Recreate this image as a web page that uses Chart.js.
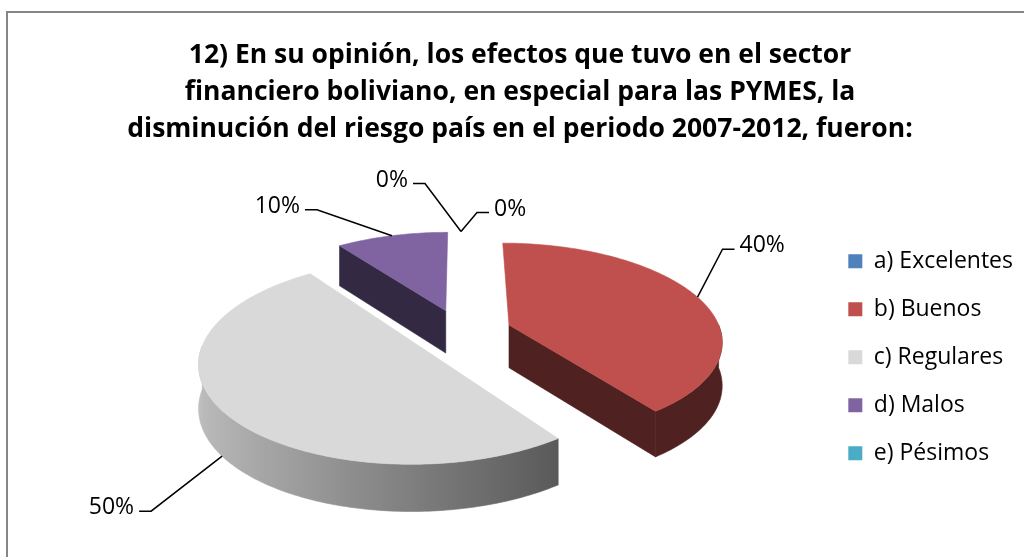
<!DOCTYPE html>
<html>
<head>
<meta charset="utf-8">
<script src="https://cdn.jsdelivr.net/npm/chart.js@4.4.1/dist/chart.umd.min.js"></script>
<style>
  html, body { margin: 0; padding: 0; background: #ffffff; overflow: hidden; }
  #wrap { width: 1024px; height: 557px; position: relative; }
</style>
</head>
<body>
<div id="wrap"><canvas id="chart" width="1024" height="557"></canvas></div>
<script>
// Survey answers (share of respondents, %)
const categories = ['a) Excelentes', 'b) Buenos', 'c) Regulares', 'd) Malos', 'e) Pésimos'];
const shares = [0, 40, 50, 10, 0];
const sliceColors = ['#4F81BD', '#C0504D', '#D9D9D9', '#8064A2', '#4BACC6'];
const titleLines = [
  '12) En su opinión, los efectos que tuvo en el sector',
  'financiero boliviano, en especial para las PYMES, la',
  'disminución del riesgo país en el periodo 2007-2012, fueron:'
];

// Leader line elbows for the data labels, relative to each label's anchor (px)
const leaderElbows = [[-36, -48], [25, -48], [-71, 55], [-75, -26], [16, -19]];

// Camera for the tilted 3-D pie
const view = { cx: 461, cy: 332, tilt: 0.453, persp: 0.15, depth: 43 };

function rgbOf(hex) {
  const n = parseInt(hex.slice(1), 16);
  return [(n >> 16) & 255, (n >> 8) & 255, n & 255];
}
function shade(hex, f) {
  const c = rgbOf(hex).map(v => Math.round(Math.min(255, v * f)));
  return 'rgb(' + c.join(',') + ')';
}

// Pie-plane point (X right, Z toward viewer, in radius units; h = 0 top, 1 bottom)
function project(R, X, Z, h) {
  const k = 1 / (1 - view.persp * Z);
  return {
    x: view.cx + R * X * k,
    y: view.cy + R * view.tilt * Z * k + view.depth * h * Math.sqrt(k)
  };
}

function slicePoint(arc, a, r, h) {
  const R = arc.outerRadius;
  const m = (arc.startAngle + arc.endAngle) / 2;
  const off = (arc.options.offset || 0) / R;
  return project(R, Math.cos(m) * off + r * Math.cos(a), Math.sin(m) * off + r * Math.sin(a), h);
}

// Brightness of the outer wall: lit from the front-left
function wallShade(a) {
  const c = Math.cos(a), c0 = Math.cos(54 * Math.PI / 180);
  const t = Math.max(0, Math.min(1, (c0 - c) / (c0 + 1)));
  return 0.41 + 0.47 * t;
}

function fillPoly(ctx, pts, fill) {
  ctx.beginPath();
  pts.forEach((p, i) => i ? ctx.lineTo(p.x, p.y) : ctx.moveTo(p.x, p.y));
  ctx.closePath();
  ctx.fillStyle = fill;
  ctx.fill();
  ctx.strokeStyle = fill;
  ctx.lineWidth = 0.6;
  ctx.stroke();
}

function drawSlice(ctx, arc, color) {
  const s = arc.startAngle, e = arc.endAngle;
  if (e - s < 1e-4) return;
  const P = (a, r, h) => slicePoint(arc, a, r, h);
  const dark = shade(color, 0.41);
  const deg = Math.PI / 180;

  // radial cut faces turned toward the viewer
  if (Math.sin(s - Math.PI / 2) > 1e-3) fillPoly(ctx, [P(s, 0, 0), P(s, 1, 0), P(s, 1, 1), P(s, 0, 1)], dark);
  if (Math.sin(e + Math.PI / 2) > 1e-3) fillPoly(ctx, [P(e, 0, 0), P(e, 1, 0), P(e, 1, 1), P(e, 0, 1)], dark);

  // curved outer wall, front half
  const a0 = Math.max(s, 0), a1 = Math.min(e, Math.PI);
  if (a1 > a0) {
    const n = Math.max(8, Math.ceil((a1 - a0) / deg));
    const top = [], bot = [];
    for (let i = 0; i <= n; i++) {
      const a = a0 + (a1 - a0) * i / n;
      top.push(P(a, 1, 0));
      bot.push(P(a, 1, 1));
    }
    const xs = top.map(p => p.x);
    const xl = Math.min(...xs), xr = Math.max(...xs);
    const g = ctx.createLinearGradient(xl, 0, xr, 0);
    for (let i = 0; i <= n; i++) {
      const a = a0 + (a1 - a0) * i / n;
      const t = xr > xl ? Math.max(0, Math.min(1, (top[i].x - xl) / (xr - xl))) : 0;
      g.addColorStop(t, shade(color, wallShade(a)));
    }
    fillPoly(ctx, top.concat(bot.reverse()), g);
  }

  // top face
  const n2 = Math.max(4, Math.ceil((e - s) / deg));
  const face = [P(s, 0, 0)];
  for (let i = 0; i <= n2; i++) face.push(P(s + (e - s) * i / n2, 1, 0));
  fillPoly(ctx, face, color);
}

const framePlugin = {
  id: 'frame',
  beforeDraw(chart) {
    const ctx = chart.ctx;
    ctx.save();
    ctx.fillStyle = '#ffffff';
    ctx.fillRect(0, 0, chart.width, chart.height);
    ctx.strokeStyle = '#868686';
    ctx.lineWidth = 2;
    ctx.strokeRect(7, 12, chart.width + 20, chart.height + 20);
    ctx.restore();
  }
};

const pie3dPlugin = {
  id: 'pie3d',
  beforeDatasetsDraw(chart) {
    const ctx = chart.ctx;
    const meta = chart.getDatasetMeta(0);
    const colors = chart.data.datasets[0].backgroundColor;
    const order = meta.data.map((arc, i) => {
      const m = (arc.startAngle + arc.endAngle) / 2;
      const off = (arc.options.offset || 0) / arc.outerRadius;
      return { i, z: Math.sin(m) * (off + 0.5) };
    }).sort((p, q) => p.z - q.z);
    ctx.save();
    order.forEach(o => drawSlice(ctx, meta.data[o.i], colors[o.i]));
    ctx.restore();
    return false;
  },
  afterDraw(chart) {
    const ctx = chart.ctx;
    const meta = chart.getDatasetMeta(0);
    const values = chart.data.datasets[0].data;
    const total = values.reduce((a, b) => a + b, 0);
    ctx.save();
    ctx.font = '23px "Open Sans"';
    ctx.fillStyle = '#000';
    ctx.strokeStyle = '#000';
    ctx.lineWidth = 1.5;
    meta.data.forEach((arc, i) => {
      const m = (arc.startAngle + arc.endAngle) / 2;
      const front = Math.sin(m) > 0.3;
      const anchor = slicePoint(arc, m, 1, front ? 1 : 0);
      const [dx, dy] = leaderElbows[i];
      const dir = dx < 0 ? -1 : 1;
      const elbow = { x: anchor.x + dx, y: anchor.y + dy };
      const end = { x: elbow.x + dir * 12, y: elbow.y };
      ctx.beginPath();
      ctx.moveTo(anchor.x, anchor.y);
      ctx.lineTo(elbow.x, elbow.y);
      ctx.lineTo(end.x, end.y);
      ctx.stroke();
      ctx.textAlign = dir < 0 ? 'right' : 'left';
      ctx.textBaseline = 'alphabetic';
      ctx.fillText(Math.round(values[i] / total * 100) + '%', end.x + dir * 5, end.y + 3);
    });
    ctx.restore();
  }
};

new Chart(document.getElementById('chart'), {
  type: 'pie',
  data: {
    labels: categories,
    datasets: [{
      data: shares,
      backgroundColor: sliceColors,
      borderWidth: 0,
      offset: 51
    }]
  },
  options: {
    responsive: false,
    animation: false,
    events: [],
    radius: 212,
    rotation: 0,
    layout: { padding: { left: 17, right: 1, top: 0, bottom: -15.5 } },
    plugins: {
      title: {
        display: true,
        text: titleLines,
        color: '#000',
        font: { family: '"Open Sans"', size: 26.5, weight: 'bold', lineHeight: '37px' },
        padding: { top: 36.5, bottom: 0 }
      },
      legend: {
        position: 'right',
        fullSize: false,
        title: { display: true, text: '', font: { size: 10, lineHeight: '10px' }, padding: 0 },
        labels: {
          boxWidth: 14,
          boxHeight: 14,
          padding: 25,
          color: '#000',
          font: { family: '"Open Sans"', size: 23 }
        }
      },
      tooltip: { enabled: false }
    }
  },
  plugins: [framePlugin, pie3dPlugin]
});
</script>
</body>
</html>
